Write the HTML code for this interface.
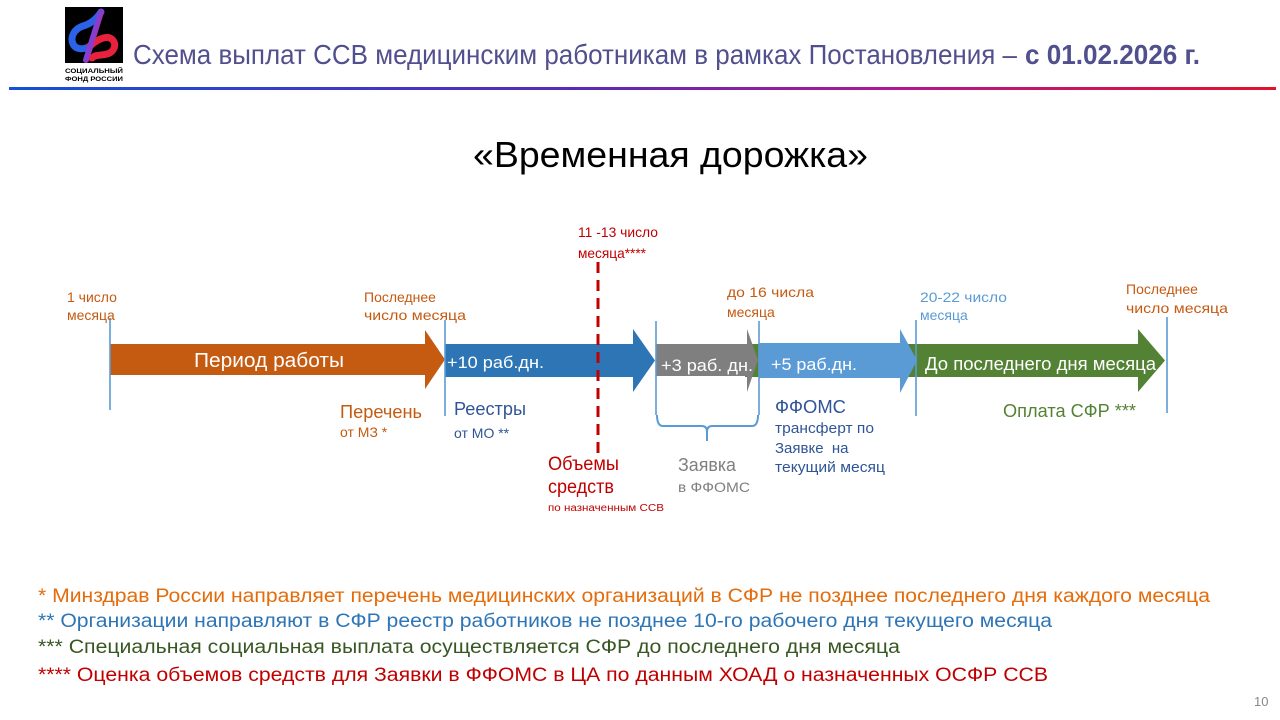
<!DOCTYPE html>
<html><head><meta charset="utf-8">
<style>
html,body{margin:0;padding:0;background:#fff;}
svg{display:block;}
text{font-family:"Liberation Sans",Arial,sans-serif;}
</style></head>
<body>
<svg width="1280" height="720" viewBox="0 0 1280 720" xmlns="http://www.w3.org/2000/svg">
<defs>
<linearGradient id="hl" x1="0" x2="1" y1="0" y2="0">
<stop offset="0" stop-color="#1550d8"/>
<stop offset="0.45" stop-color="#5a2ab8"/>
<stop offset="0.7" stop-color="#b0188f"/>
<stop offset="1" stop-color="#e4122a"/>
</linearGradient>
<linearGradient id="lg" x1="0" y1="0" x2="1" y2="1">
<stop offset="0" stop-color="#2b6cf0"/>
<stop offset="0.5" stop-color="#8a3bd0"/>
<stop offset="1" stop-color="#f0203a"/>
</linearGradient>
</defs>

<!-- logo -->
<rect x="65" y="7" width="58" height="56" fill="#000"/>
<path d="M101,12 C96,20 90,24 83,26 C74,29 70,37 73,44 C76,50 84,50 90,46" fill="none" stroke="#2b62e8" stroke-width="7" stroke-linecap="round"/>
<path d="M90,46 C97,40 104,36 110,38 C118,42 115,52 107,54 C100,56 96,54 92,58" fill="none" stroke="#e8223c" stroke-width="7" stroke-linecap="round"/>
<path d="M101,12 L86,60" stroke="url(#lg)" stroke-width="6" stroke-linecap="round"/>
<text x="65" y="73" font-size="6.5" font-weight="bold" fill="#000" textLength="58" lengthAdjust="spacingAndGlyphs">СОЦИАЛЬНЫЙ</text>
<text x="65" y="81" font-size="6.5" font-weight="bold" fill="#000" textLength="58" lengthAdjust="spacingAndGlyphs">ФОНД РОССИИ</text>

<!-- title -->
<text x="133" y="64" font-size="28" fill="#51508e" textLength="884" lengthAdjust="spacingAndGlyphs">Схема выплат ССВ медицинским работникам в рамках Постановления –</text>
<text x="1025" y="64" font-size="28" font-weight="bold" fill="#51508e" textLength="175" lengthAdjust="spacingAndGlyphs">с 01.02.2026 г.</text>
<rect x="9" y="87" width="1267" height="3" fill="url(#hl)"/>

<!-- subtitle -->
<text x="473" y="167" font-size="36" fill="#000" textLength="395" lengthAdjust="spacingAndGlyphs">«Временная дорожка»</text>

<!-- green arrow (behind) -->
<rect x="745" y="344" width="15" height="33" fill="#548235"/>
<path d="M900,344 L1138,344 L1138,329 L1165,360.5 L1138,392 L1138,377 L900,377 Z" fill="#548235"/>
<!-- light blue arrow -->
<path d="M759,343 L900,343 L900,329 L917,360.5 L900,393 L900,378 L759,378 Z" fill="#5b9bd5"/>
<!-- gray arrow -->
<path d="M656,344 L747,344 L747,329 L758,360 L747,392 L747,376 L656,376 Z" fill="#7f7f7f"/>
<!-- blue arrow -->
<path d="M445,344 L633,344 L633,329 L655,360.5 L633,392 L633,377 L445,377 Z" fill="#2e75b6"/>
<!-- orange arrow -->
<path d="M110,344 L425,344 L425,330 L445,359.5 L425,389 L425,375 L110,375 Z" fill="#c55a11"/>

<!-- vertical markers -->
<g stroke="#5b9bd5" stroke-width="1.6">
<line x1="110" y1="318" x2="110" y2="410"/>
<line x1="445" y1="320" x2="445" y2="416"/>
<line x1="656" y1="321" x2="656" y2="415"/>
<line x1="759" y1="321" x2="759" y2="415"/>
<line x1="916" y1="320" x2="916" y2="416"/>
<line x1="1167" y1="317" x2="1167" y2="413"/>
</g>

<!-- brace -->
<path d="M657,415 Q657,426 663,426 L702,426 Q707,426 707,432 L707,441 M758,415 Q758,426 752,426 L712,426 Q707,426 707,432" fill="none" stroke="#5b9bd5" stroke-width="2"/>

<!-- red dashed -->
<line x1="598" y1="262" x2="598" y2="455" stroke="#c00000" stroke-width="3" stroke-dasharray="11,7"/>

<!-- arrow labels -->
<text x="194" y="367" font-size="20" fill="#fff" textLength="150" lengthAdjust="spacingAndGlyphs">Период работы</text>
<text x="447" y="368" font-size="17" fill="#fff" textLength="97" lengthAdjust="spacingAndGlyphs">+10 раб.дн.</text>
<text x="661" y="371" font-size="17" fill="#fff" textLength="92" lengthAdjust="spacingAndGlyphs">+3 раб. дн.</text>
<text x="771" y="370" font-size="17" fill="#fff" textLength="86" lengthAdjust="spacingAndGlyphs">+5 раб.дн.</text>
<text x="925" y="370" font-size="18" fill="#fff" textLength="231" lengthAdjust="spacingAndGlyphs">До последнего дня месяца</text>

<!-- top labels -->
<g font-size="14" fill="#c55a11">
<text x="67" y="302">1 число</text>
<text x="67" y="320">месяца</text>
<text x="364" y="302">Последнее</text>
<text x="364" y="320" textLength="102" lengthAdjust="spacingAndGlyphs">число месяца</text>
<text x="727" y="297" textLength="87" lengthAdjust="spacingAndGlyphs">до 16 числа</text>
<text x="727" y="317">месяца</text>
<text x="1126" y="294">Последнее</text>
<text x="1126" y="313" textLength="102" lengthAdjust="spacingAndGlyphs">число месяца</text>
</g>
<g font-size="14" fill="#5b9bd5">
<text x="920" y="302" textLength="87" lengthAdjust="spacingAndGlyphs">20-22 число</text>
<text x="920" y="320">месяца</text>
</g>
<g font-size="14" fill="#c00000">
<text x="578" y="237" textLength="80" lengthAdjust="spacingAndGlyphs">11 -13 число</text>
<text x="578" y="258" textLength="68" lengthAdjust="spacingAndGlyphs">месяца****</text>
</g>

<!-- bottom labels -->
<text x="340" y="418" font-size="18" fill="#c55a11" textLength="82" lengthAdjust="spacingAndGlyphs">Перечень</text>
<text x="340" y="437" font-size="14" fill="#c55a11">от МЗ *</text>
<text x="454" y="415" font-size="18" fill="#2f5597" textLength="72" lengthAdjust="spacingAndGlyphs">Реестры</text>
<text x="454" y="438" font-size="14" fill="#2f5597">от МО **</text>
<text x="548" y="470" font-size="19" fill="#c00000" textLength="71" lengthAdjust="spacingAndGlyphs">Объемы</text>
<text x="548" y="493" font-size="19" fill="#c00000" textLength="66" lengthAdjust="spacingAndGlyphs">средств</text>
<text x="548" y="511" font-size="10" fill="#c00000" textLength="116" lengthAdjust="spacingAndGlyphs">по назначенным ССВ</text>
<text x="678" y="471" font-size="18" fill="#7f7f7f" textLength="58" lengthAdjust="spacingAndGlyphs">Заявка</text>
<text x="678" y="492" font-size="14" fill="#7f7f7f" textLength="72" lengthAdjust="spacingAndGlyphs">в ФФОМС</text>
<text x="775" y="413" font-size="18" fill="#2f5597" textLength="71" lengthAdjust="spacingAndGlyphs">ФФОМС</text>
<text x="775" y="433" font-size="15" fill="#2f5597" textLength="99" lengthAdjust="spacingAndGlyphs">трансферт по</text>
<text x="775" y="453" font-size="15" fill="#2f5597" xml:space="preserve">Заявке  на</text>
<text x="775" y="472" font-size="15" fill="#2f5597" textLength="110" lengthAdjust="spacingAndGlyphs">текущий месяц</text>
<text x="1003" y="417" font-size="18" fill="#548235" textLength="133" lengthAdjust="spacingAndGlyphs">Оплата СФР ***</text>

<!-- footnotes -->
<text x="38" y="602" font-size="19" fill="#e46c0a" textLength="1172" lengthAdjust="spacingAndGlyphs">* Минздрав России направляет перечень медицинских организаций в СФР не позднее последнего дня каждого месяца</text>
<text x="38" y="627" font-size="19" fill="#2e75b6" textLength="1014" lengthAdjust="spacingAndGlyphs">** Организации направляют в СФР реестр работников не позднее 10-го рабочего дня текущего месяца</text>
<text x="38" y="653" font-size="19" fill="#385723" textLength="862" lengthAdjust="spacingAndGlyphs">*** Специальная социальная выплата осуществляется СФР до последнего дня месяца</text>
<text x="38" y="681" font-size="19" fill="#c00000" textLength="1010" lengthAdjust="spacingAndGlyphs">**** Оценка объемов средств для Заявки в ФФОМС в ЦА по данным ХОАД о назначенных ОСФР ССВ</text>

<text x="1254" y="706" font-size="13" fill="#888">10</text>
</svg>
</body></html>
